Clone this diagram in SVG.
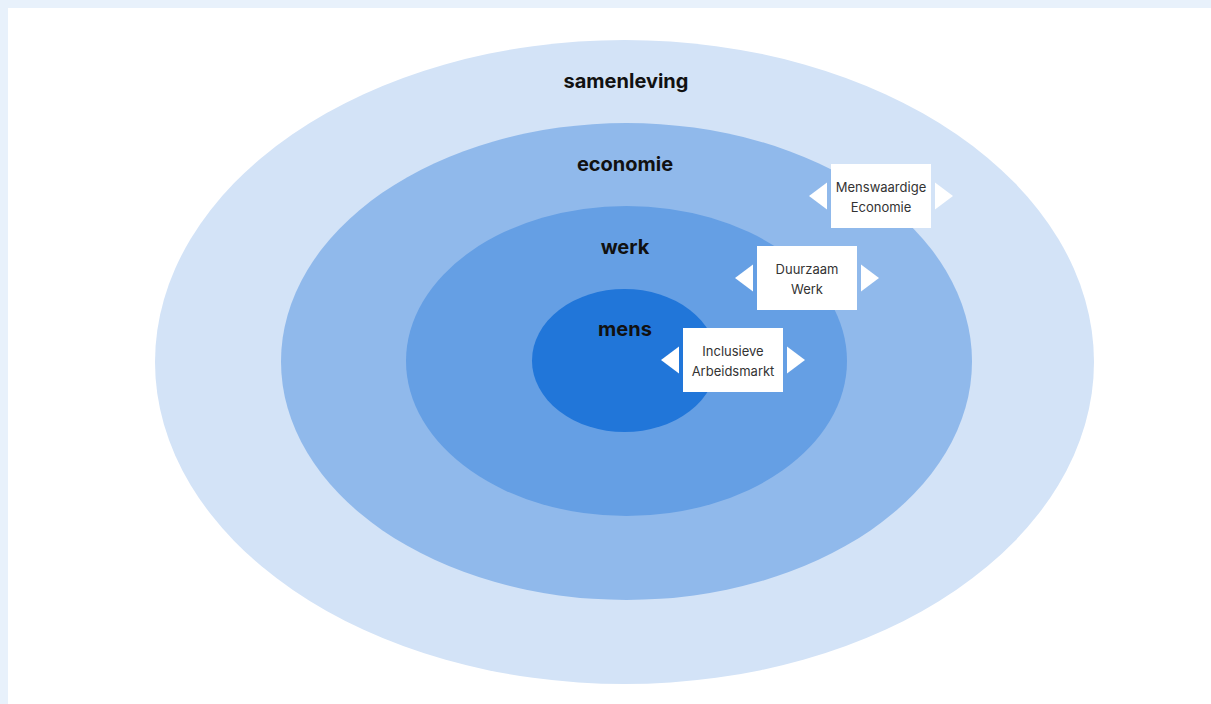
<svg xmlns="http://www.w3.org/2000/svg" width="1211" height="704" viewBox="0 0 1211 704">
<style>
.lbl{font-family:Inter,"Liberation Sans",sans-serif;font-weight:700;font-size:20px;fill:#111;text-anchor:middle}
.box{fill:#fff}
.tri{fill:#fff}
.bt{font-family:Inter,"Liberation Sans",sans-serif;font-size:13px;fill:#333;text-anchor:middle}
</style>
<rect x="0" y="0" width="1211" height="704" fill="#e8f1fb"/>
<rect x="8" y="8" width="1203" height="696" fill="#ffffff"/>
<g id="samenleving">
<ellipse cx="624.5" cy="362" rx="469.5" ry="322" fill="#d3e3f7"/>
<text class="lbl" x="626" y="88">samenleving</text>
</g>
<g id="economie">
<ellipse cx="626.5" cy="361.5" rx="345.5" ry="238.5" fill="#90b9eb"/>
<text class="lbl" x="625" y="171">economie</text>
</g>
<g id="werk">
<ellipse cx="626.5" cy="361" rx="220.5" ry="155" fill="#659fe4"/>
<text class="lbl" x="625" y="254">werk</text>
</g>
<g id="mens">
<ellipse cx="624.5" cy="360.5" rx="92.5" ry="71.5" fill="#2176d9"/>
<text class="lbl" x="625" y="336">mens</text>
</g>
<g id="connectors"></g>
<g id="menswaardige-economie">
<rect class="box" x="831" y="164" width="100" height="64"/>
<polygon class="tri" points="809,196 827,182.5 827,209.5"/>
<polygon class="tri" points="953,196 935,182.5 935,209.5"/>
<text class="bt" x="881" y="192">Menswaardige</text>
<text class="bt" x="881" y="212">Economie</text>
</g>
<g id="duurzaam-werk">
<rect class="box" x="757" y="246" width="100" height="64"/>
<polygon class="tri" points="735,278 753,264.5 753,291.5"/>
<polygon class="tri" points="879,278 861,264.5 861,291.5"/>
<text class="bt" x="807" y="274">Duurzaam</text>
<text class="bt" x="807" y="294">Werk</text>
</g>
<g id="inclusieve-arbeidsmarkt">
<rect class="box" x="683" y="328" width="100" height="64"/>
<polygon class="tri" points="661,360 679,346.5 679,373.5"/>
<polygon class="tri" points="805,360 787,346.5 787,373.5"/>
<text class="bt" x="733" y="356">Inclusieve</text>
<text class="bt" x="733" y="376">Arbeidsmarkt</text>
</g>
</svg>
